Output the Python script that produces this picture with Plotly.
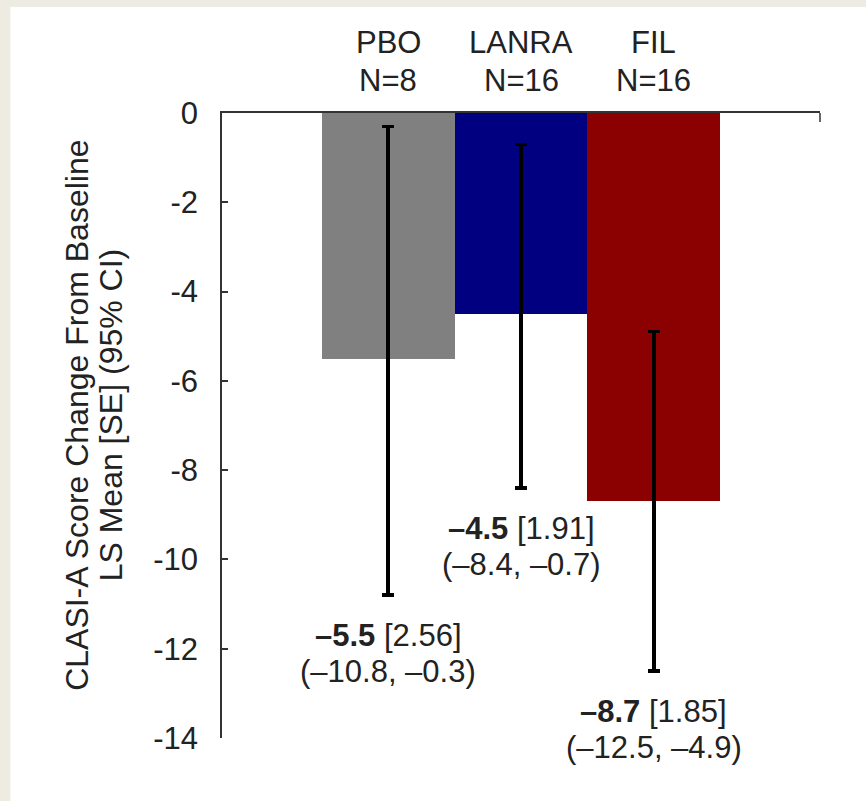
import plotly.graph_objects as go

# Data
groups = ["PBO", "LANRA", "FIL"]
n_values = [8, 16, 16]
ls_mean = [-5.5, -4.5, -8.7]
se = [2.56, 1.91, 1.85]
ci_low = [-10.8, -8.4, -12.5]
ci_high = [-0.3, -0.7, -4.9]
bar_colors = ["#808080", "#000080", "#8B0000"]
y_ticks = [0, -2, -4, -6, -8, -10, -12, -14]
y_ticktext = ["0", "-2", "-4", "-6", "-8", "-10", "-12", "-14"]
y_title_lines = ["CLASI-A Score Change From Baseline", "LS Mean [SE] (95% CI)"]

FONT = "Liberation Sans, Arial, sans-serif"
TXT = "#222222"
FS = 31

xpos = list(range(1, len(groups) + 1))
plus = [hi - m for hi, m in zip(ci_high, ls_mean)]
minus = [m - lo for m, lo in zip(ls_mean, ci_low)]

fig = go.Figure()
fig.add_trace(go.Bar(
    x=xpos, y=ls_mean, width=1.0,
    marker=dict(color=bar_colors, line=dict(width=0)),
    error_y=dict(type="data", symmetric=False, array=plus, arrayminus=minus,
                 color="black", thickness=3.4, width=6),
    showlegend=False, hoverinfo="skip",
))

def fmt(v):
    s = f"{abs(v):.1f}"
    return ("\u2013" + s) if v < 0 else s

font = dict(family=FONT, size=FS, color=TXT)
title_font = dict(family=FONT, size=32, color=TXT)

# value labels under each error bar
for x, m, s, lo, hi in zip(xpos, ls_mean, se, ci_low, ci_high):
    fig.add_annotation(x=x, y=lo, xref="x", yref="y", yanchor="middle", xanchor="center",
                       yshift=-40, showarrow=False, font=font,
                       text=f"<b>{fmt(m)}</b> [{s:.2f}]")
    fig.add_annotation(x=x, y=lo, xref="x", yref="y", yanchor="middle", xanchor="center",
                       yshift=-76, showarrow=False, font=font,
                       text=f"({fmt(lo)}, {fmt(hi)})")

# group labels above the plot
for x, g, n in zip(xpos, groups, n_values):
    fig.add_annotation(x=x, y=1, xref="x", yref="paper", yanchor="middle", xanchor="center",
                       yshift=71, showarrow=False, font=font, text=g)
    fig.add_annotation(x=x, y=1, xref="x", yref="paper", yanchor="middle", xanchor="center",
                       yshift=33, showarrow=False, font=font, text=f"N={n}")

# y-axis title (two rotated lines)
for xp, line in zip([-0.2425, -0.1865], y_title_lines):
    fig.add_annotation(x=xp, y=0.517, xref="paper", yref="paper", xanchor="center",
                       yanchor="middle", textangle=-90, showarrow=False, font=title_font,
                       text=line)

# white panel on beige page
fig.add_shape(type="rect", xref="paper", yref="paper",
              x0=-0.354, x1=1.2, y0=-0.2, y1=1.1696,
              fillcolor="white", line=dict(width=0), layer="below")
# tick mark at the right end of the top axis
fig.add_shape(type="line", xref="paper", yref="paper",
              x0=1, x1=1, y0=1, y1=1 - 9 / 625,
              line=dict(color="#333333", width=1.5))

fig.update_layout(
    width=866, height=801,
    margin=dict(l=222, r=46, t=113, b=63, pad=0),
    paper_bgcolor="#EEEBE2", plot_bgcolor="white",
    font=font,
    bargap=0,
    xaxis=dict(
        range=[-0.25, 4.25], side="top", showticklabels=False,
        ticks="", showline=True, linecolor="#333333", linewidth=1.5,
        showgrid=False, zeroline=False,
    ),
    yaxis=dict(
        range=[-14, 0], tickvals=y_ticks, ticktext=y_ticktext,
        ticks="inside", ticklen=6, tickwidth=1.5, tickcolor="#333333",
        showline=True, linecolor="#333333", linewidth=1.5,
        showgrid=False, zeroline=False, ticklabelstandoff=16,
        tickfont=font,
    ),
)

fig.write_html("out.html")
